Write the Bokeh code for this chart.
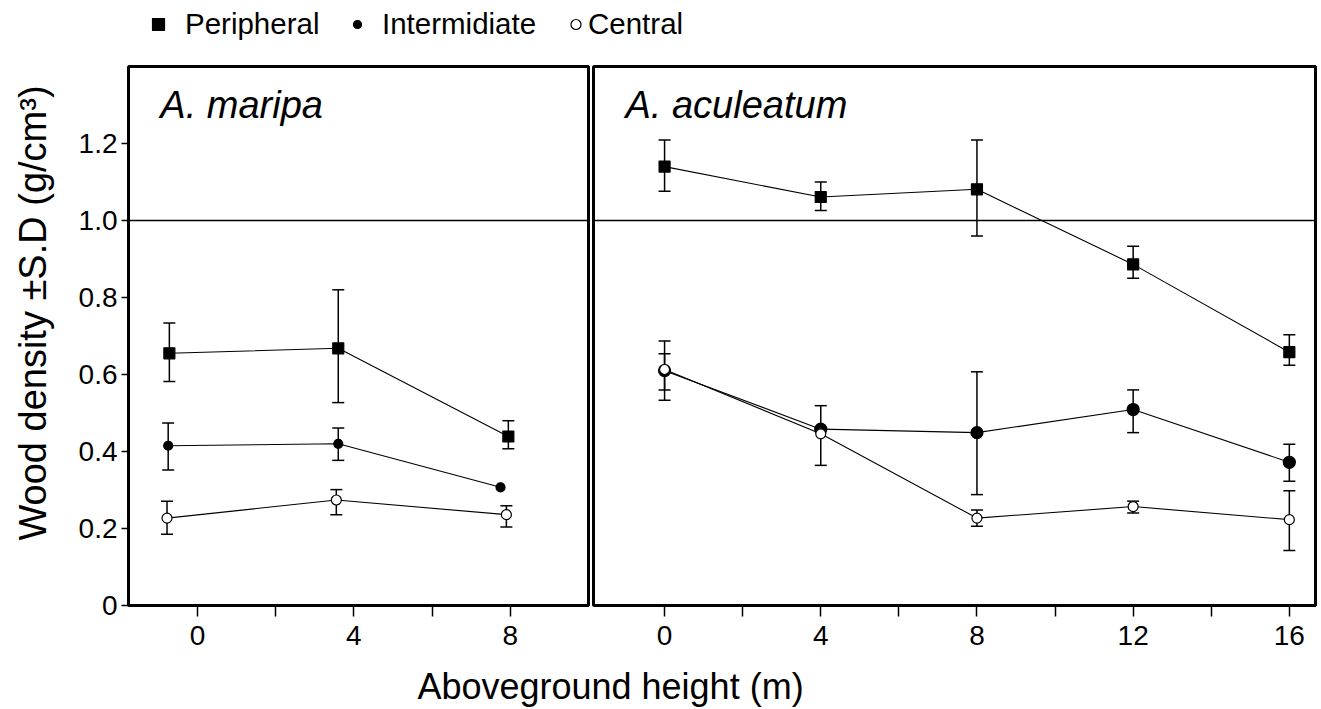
import math
from bokeh.plotting import figure
from bokeh.models import (Range1d, FixedTicker, Whisker, ColumnDataSource, Span, Label,
                          Legend, LegendItem, TeeHead, CustomJSTickFormatter)
from bokeh.layouts import column, row
from bokeh.embed import file_html
from bokeh.resources import INLINE

FONT = "Liberation Sans"

# ---------------- data ----------------
series_names = ["Peripheral", "Intermidiate", "Central"]
panel_titles = ["A. maripa", "A. aculeatum"]

# A. maripa
maripa_x_peripheral = [-0.72, 3.6, 7.95]
maripa_peripheral = [0.655, 0.668, 0.439]
maripa_peripheral_hi = [0.734, 0.820, 0.480]
maripa_peripheral_lo = [0.582, 0.527, 0.407]

maripa_x_intermediate = [-0.75, 3.6, 7.75]
maripa_intermediate = [0.415, 0.420, 0.307]
maripa_intermediate_hi = [0.474, 0.461, 0.307]
maripa_intermediate_lo = [0.352, 0.377, 0.307]

maripa_x_central = [-0.78, 3.55, 7.9]
maripa_central = [0.227, 0.274, 0.236]
maripa_central_hi = [0.271, 0.301, 0.259]
maripa_central_lo = [0.185, 0.236, 0.204]

# A. aculeatum
aculeatum_x = [0, 4, 8, 12, 16]
aculeatum_peripheral = [1.140, 1.061, 1.081, 0.886, 0.658]
aculeatum_peripheral_hi = [1.209, 1.100, 1.209, 0.933, 0.703]
aculeatum_peripheral_lo = [1.076, 1.026, 0.960, 0.850, 0.624]

aculeatum_intermediate = [0.610, 0.458, 0.449, 0.509, 0.372]
aculeatum_intermediate_hi = [0.687, 0.519, 0.607, 0.560, 0.419]
aculeatum_intermediate_lo = [0.533, 0.364, 0.288, 0.449, 0.323]

aculeatum_central = [0.613, 0.446, 0.227, 0.257, 0.223]
aculeatum_central_hi = [0.654, 0.446, 0.248, 0.271, 0.298]
aculeatum_central_lo = [0.560, 0.446, 0.206, 0.240, 0.143]

y_ticks = [0, 0.2, 0.4, 0.6, 0.8, 1.0, 1.2]
reference_density = 1.0
y_title = "Wood density \u00b1S.D (g/cm\u00b3)"
x_title = "Aboveground height (m)"

# ---------------- styles ----------------
STYLE = {
    "Peripheral": dict(marker="square", fill="black", size=11),
    "Intermidiate": dict(marker="circle", fill="black", size=10),
    "Central": dict(marker="circle", fill="white", size=10),
}

PANEL_TOP, FRAME_H, PANEL_BOTTOM = 16, 539, 55
PANEL_H = PANEL_TOP + FRAME_H + PANEL_BOTTOM
YLAB_W = 62


def add_series(p, xs, ys, hi, lo, name, size=None):
    st = STYLE[name]
    p.line(xs, ys, line_color="black", line_width=1.1)
    keep = [i for i in range(len(xs)) if hi[i] != lo[i]]
    src = ColumnDataSource(dict(x=[xs[i] for i in keep],
                                upper=[hi[i] for i in keep],
                                lower=[lo[i] for i in keep]))
    w = Whisker(source=src, base="x", upper="upper", lower="lower", dimension="height",
                line_color="black", line_width=1.5,
                upper_head=TeeHead(size=12, line_color="black", line_width=1.5),
                lower_head=TeeHead(size=12, line_color="black", line_width=1.5))
    p.add_layout(w)
    p.scatter(xs, ys, marker=st["marker"], size=size or st["size"],
              fill_color=st["fill"], line_color="black", line_width=1.2)


def make_panel(xr, frame_width, bl, br, ticks, minor, title, title_x, show_y):
    p = figure(frame_width=frame_width, frame_height=FRAME_H, title=None,
               x_range=Range1d(*xr), y_range=Range1d(0, 1.4),
               output_backend="svg", toolbar_location=None,
               min_border_top=PANEL_TOP, min_border_bottom=PANEL_BOTTOM,
               min_border_left=bl, min_border_right=br,
               y_axis_location="left" if show_y else None,
               outline_line_color="black", outline_line_width=3,
               background_fill_color="white", border_fill_color="white")
    p.grid.visible = False
    xa = p.xaxis[0]
    xa.ticker = FixedTicker(ticks=ticks, minor_ticks=minor)
    xa.axis_line_color = None
    xa.major_tick_in = 0
    xa.major_tick_out = 11
    xa.minor_tick_in = 0
    xa.minor_tick_out = 11
    xa.major_tick_line_width = 1.5
    xa.minor_tick_line_width = 1.5
    xa.major_tick_line_color = "black"
    xa.minor_tick_line_color = "black"
    xa.major_label_text_font = FONT
    xa.major_label_text_font_size = "28px"
    xa.major_label_text_color = "black"
    xa.major_label_standoff = 9

    if show_y:
        ya = p.yaxis[0]
        ya.ticker = FixedTicker(ticks=y_ticks, minor_ticks=[])
        ya.axis_line_color = None
        ya.major_tick_line_color = "black"
        ya.major_tick_line_width = 1.5
        ya.formatter = CustomJSTickFormatter(code="return tick == 0 ? '0' : tick.toFixed(1)")
        ya.major_tick_in = 0
        ya.major_tick_out = 7
        ya.major_label_text_font = FONT
        ya.major_label_text_font_size = "28px"
        ya.major_label_text_color = "black"
        ya.major_label_standoff = 4

    p.add_layout(Span(location=reference_density, dimension="width",
                      line_color="black", line_width=1.3))
    p.add_layout(Label(x=title_x, y=1.30, text=title, text_font=FONT,
                       text_font_size="38px", text_font_style="italic",
                       text_color="black", text_baseline="alphabetic"))
    return p


def strip(width, height):
    f = figure(width=width, height=height, title=None,
               x_range=Range1d(0, width), y_range=Range1d(0, height),
               output_backend="svg", toolbar_location=None, min_border=0,
               outline_line_color=None, x_axis_location=None, y_axis_location=None)
    f.grid.visible = False
    return f


left = make_panel((-1.765, 10.0), 460, 128 - YLAB_W, 3, [0, 4, 8], [2, 6],
                  panel_titles[0], -0.95, True)
add_series(left, maripa_x_peripheral, maripa_peripheral, maripa_peripheral_hi,
           maripa_peripheral_lo, "Peripheral")
add_series(left, maripa_x_intermediate, maripa_intermediate, maripa_intermediate_hi,
           maripa_intermediate_lo, "Intermidiate", size=9)
add_series(left, maripa_x_central, maripa_central, maripa_central_hi,
           maripa_central_lo, "Central")

right = make_panel((-1.82, 16.67), 722, 2, 3, [0, 4, 8, 12, 16], [2, 6, 10, 14],
                   panel_titles[1], -1.0, False)
add_series(right, aculeatum_x, aculeatum_peripheral, aculeatum_peripheral_hi,
           aculeatum_peripheral_lo, "Peripheral")
add_series(right, aculeatum_x, aculeatum_intermediate, aculeatum_intermediate_hi,
           aculeatum_intermediate_lo, "Intermidiate", size=12)
add_series(right, aculeatum_x, aculeatum_central, aculeatum_central_hi,
           aculeatum_central_lo, "Central")

# ---------------- y title strip ----------------
yl = strip(YLAB_W, PANEL_H)
yl.add_layout(Label(x=32, y=342 - (66 - PANEL_BOTTOM), text=y_title, angle=math.pi / 2,
                    text_font=FONT, text_font_size="38px",
                    text_align="center", text_baseline="alphabetic",
                    text_color="black"))

# ---------------- legend strip ----------------
NAN = float("nan")
leg = strip(1318, 50)
legend_specs = [
    ("Peripheral", 30, 143, 12),
    ("Intermidiate", 20, 347, 15),
    ("Central", 25, 563, 0),
]
for name, gw, lx, standoff in legend_specs:
    st = STYLE[name]
    r = leg.scatter(x=[NAN], y=[NAN], marker=st["marker"], fill_color=st["fill"],
                    line_color="black", line_width=1.2)
    L = Legend(items=[LegendItem(label=name, renderers=[r])], location=(lx, 9),
               glyph_width=gw, glyph_height=30, label_standoff=standoff,
               padding=0, margin=0, border_line_color=None, background_fill_alpha=0,
               label_text_font=FONT, label_text_font_size="29.5px", label_height=30,
               label_text_color="black")
    leg.add_layout(L)

# ---------------- x label strip ----------------
xl = strip(1318, 709 - 50 - PANEL_H)
xl.add_layout(Label(x=610, y=23, text=x_title, text_font=FONT,
                    text_font_size="36px", text_align="center",
                    text_baseline="alphabetic", text_color="black"))

p = column(leg, row(yl, left, right), xl)
open("out.html", "w").write(file_html(p, INLINE))
